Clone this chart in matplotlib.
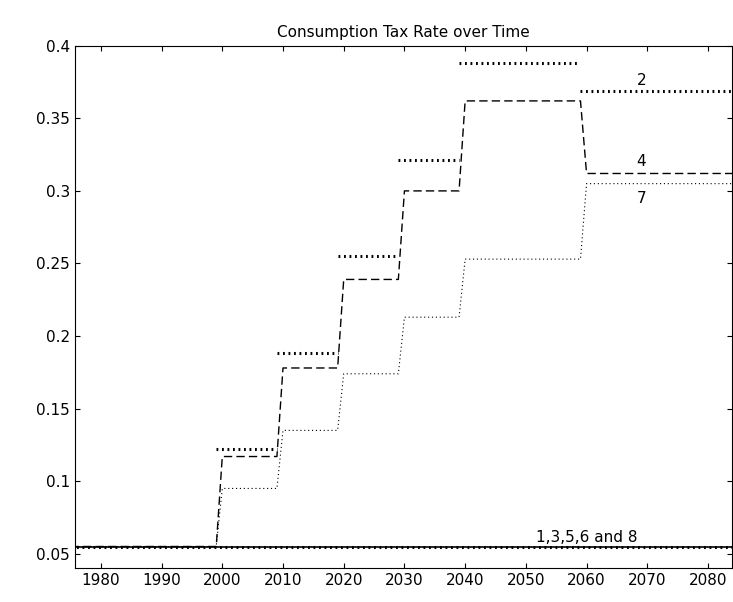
import numpy as np
import matplotlib.pyplot as plt

# decade start years for the step levels
years = [1975, 2000, 2010, 2020, 2030, 2040, 2060, 2085]
rate2 = [0.055, 0.122, 0.188, 0.255, 0.321, 0.388, 0.369]
rate4 = [0.055, 0.117, 0.178, 0.239, 0.300, 0.362, 0.312]
rate7 = [0.055, 0.095, 0.135, 0.174, 0.213, 0.253, 0.305]
base = 0.055
xticks = list(range(1980, 2081, 10))
yticks = [0.05, 0.1, 0.15, 0.2, 0.25, 0.3, 0.35, 0.4]


def ramp(levels):
    # each change takes one year, from year-1 to year
    xs, ys = [years[0]], [levels[0]]
    for i in range(1, len(levels)):
        xs += [years[i] - 1, years[i]]
        ys += [levels[i - 1], levels[i]]
    xs.append(years[-1])
    ys.append(levels[-1])
    return xs, ys


fig = plt.figure(figsize=(7.33, 6.02), dpi=100)
ax = fig.add_axes([0.102, 0.056, 0.897, 0.868])

ax.plot([years[0], years[-1]], [base, base], color="black", lw=1.2)
ax.plot([years[0], years[-1]], [base, base], color="black", lw=2.2, ls=(0, (0.6, 1.2)))

x4, y4 = ramp(rate4)
ax.plot(x4, y4, color="black", lw=1, ls=(0, (6, 3)))
x7, y7 = ramp(rate7)
ax.plot(x7, y7, color="black", lw=0.8, ls=(0, (1, 2.5)))

for i in range(1, len(rate2)):
    ax.hlines(rate2[i], years[i] - 1, years[i + 1] - 1, color="black",
              lw=2.2, linestyles=(0, (0.6, 1.2)))

ax.text(2069, 0.371, "2", fontsize=11, ha="center", va="bottom")
ax.text(2069, 0.315, "4", fontsize=11, ha="center", va="bottom")
ax.text(2069, 0.300, "7", fontsize=11, ha="center", va="top")
ax.text(2060, 0.056, "1,3,5,6 and 8", fontsize=11, ha="center", va="bottom")

ax.set_xlim(1975.7, 2084)
ax.set_ylim(0.04, 0.4)
ax.set_xticks(xticks)
ax.set_yticks(yticks)
ax.set_yticklabels([f"{v:g}" for v in yticks])
ax.tick_params(direction="in", labelsize=11, top=True, right=True)
ax.set_title("Consumption Tax Rate over Time", fontsize=11)

plt.savefig("out.png")
